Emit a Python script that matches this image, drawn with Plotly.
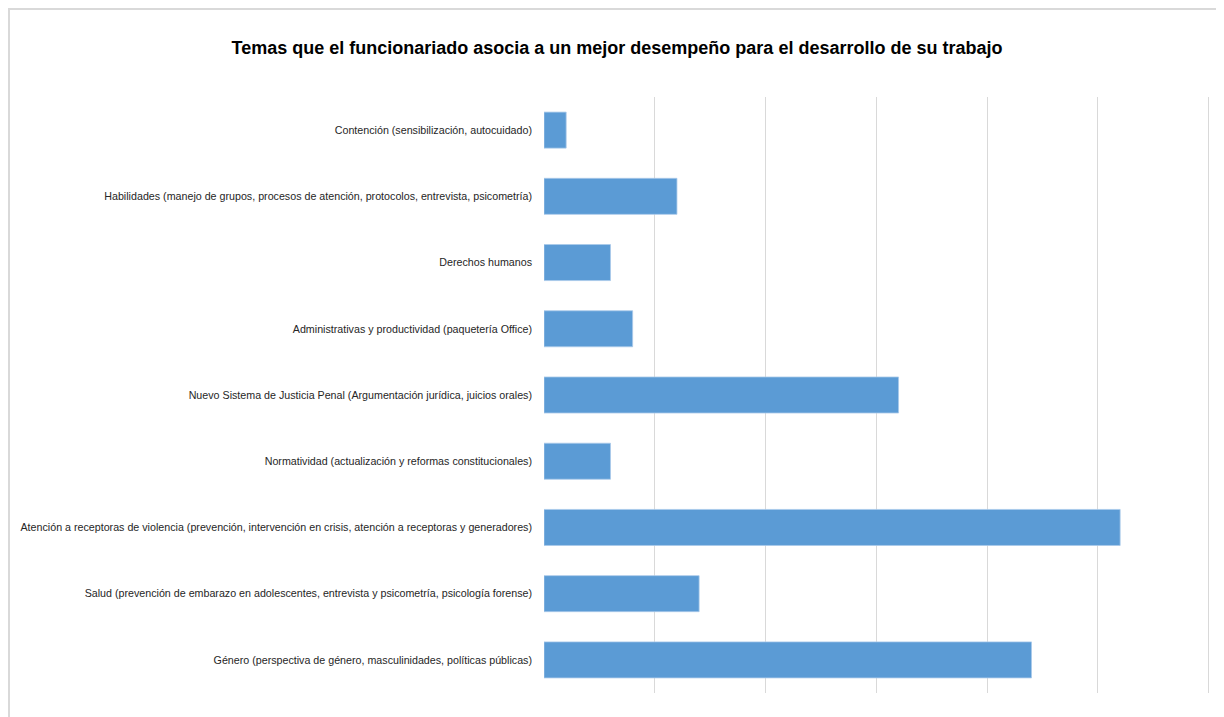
import plotly.graph_objects as go

categories = [
    "Contención (sensibilización, autocuidado)",
    "Habilidades (manejo de grupos, procesos de atención, protocolos, entrevista, psicometría)",
    "Derechos humanos",
    "Administrativas y productividad (paquetería Office)",
    "Nuevo Sistema de Justicia Penal (Argumentación jurídica, juicios orales)",
    "Normatividad (actualización y reformas constitucionales)",
    "Atención a receptoras de violencia (prevención, intervención en crisis, atención a receptoras y generadores)",
    "Salud (prevención de embarazo en adolescentes, entrevista y psicometría, psicología forense)",
    "Género (perspectiva de género, masculinidades, políticas públicas)",
]
values = [1, 6, 3, 4, 16, 3, 26, 7, 22]
title_text = "Temas que el funcionariado asocia a un mejor desempeño para el desarrollo de su trabajo"

FONT = "Liberation Sans Narrow, Arial Narrow, Liberation Sans, Arial, sans-serif"

# page body adds an 8px offset; figure sized to fill the rest of the window
W, H = 1216, 709
L, R, T, B = 536, 13, 89, 24
pw, ph = W - L - R, H - T - B

fig = go.Figure(
    go.Bar(
        x=values,
        y=categories,
        orientation="h",
        marker=dict(color="#5b9bd5", line=dict(color="#a9c9ea", width=0.8)),
        hoverinfo="x+y",
    )
)

def px_to_paper_x(px):
    return (px - L) / pw

def px_to_paper_y(py):
    return (H - B - py) / ph

fig.update_layout(
    width=W,
    height=H,
    margin=dict(l=L, r=R, t=T, b=B, autoexpand=False),
    paper_bgcolor="white",
    plot_bgcolor="white",
    bargap=0.456,
    showlegend=False,
    title=dict(
        text="<b>" + title_text + "</b>",
        x=609 / W,
        xanchor="center",
        y=1 - 40 / H,
        yanchor="middle",
        font=dict(family=FONT, size=18, color="#000000"),
    ),
    xaxis=dict(
        range=[0, 30.1],
        tick0=0,
        dtick=5,
        showticklabels=False,
        showgrid=True,
        gridcolor="#d9d9d9",
        gridwidth=1,
        zeroline=False,
        showline=False,
        fixedrange=True,
    ),
    yaxis=dict(
        autorange="reversed",
        showgrid=False,
        showline=False,
        zeroline=False,
        ticks="",
        ticklabelstandoff=11,
        tickfont=dict(family=FONT, size=10.7, color="#262626"),
        fixedrange=True,
    ),
    shapes=[
        dict(
            type="rect",
            xref="paper",
            yref="paper",
            x0=px_to_paper_x(1),
            x1=px_to_paper_x(1260),
            y0=px_to_paper_y(760),
            y1=px_to_paper_y(1),
            line=dict(color="#d9d9d9", width=2),
            fillcolor="rgba(0,0,0,0)",
            layer="below",
        )
    ],
)

fig.write_html("out.html")
